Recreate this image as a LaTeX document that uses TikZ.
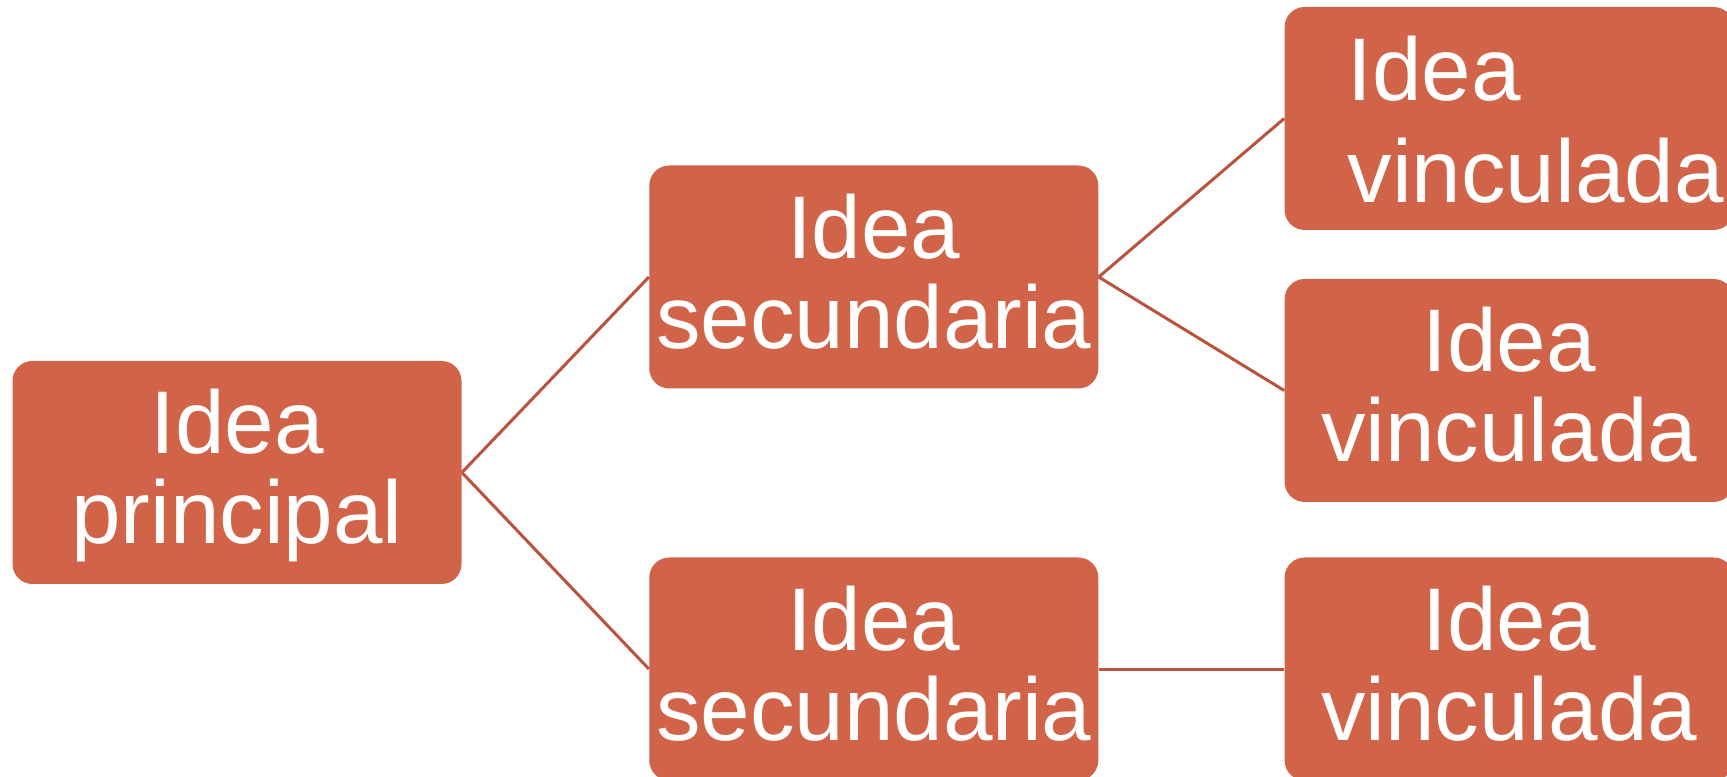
\documentclass[tikz,border=0pt]{standalone}
\usepackage{fontspec}
\setmainfont{Liberation Sans}
\usepackage{tikz}
\usetikzlibrary{positioning}
\usepackage{xcolor}
\definecolor{idea-fill}{HTML}{D16349}
\definecolor{idea-link}{HTML}{B9533C}

\begin{document}
\begin{tikzpicture}[node distance=93.5pt]
  \tikzstyle{idea}=[rectangle, rounded corners=10pt, fill=idea-fill, text=white,
    minimum width=224.5pt, minimum height=111.5pt, inner sep=0pt, align=center,
    font=\fontsize{44.5pt}{45pt}\selectfont, text height=71.5pt]
  \tikzstyle{link}=[draw=idea-link, line width=1.5pt]

  \useasboundingbox (0,0) rectangle (863.5pt,388pt);

  %% Principal
  \node[idea, text height=80.5pt] (prin) at (118.5pt,151.75pt) {Idea\\principal};

  %% Secundarias
  \node[idea] (sec1) [right=of prin, yshift=97.75pt]  {Idea\\secundaria};
  \node[idea] (sec2) [right=of prin, yshift=-98.25pt] {Idea\\secundaria};

  %% Vinculadas
  \node[idea, text width=161.5pt, inner xsep=31.5pt, align=left,
        font=\fontsize{44.5pt}{51pt}\selectfont, text height=33pt]
              (vin1) [right=92.75pt of sec1, yshift=79.25pt]  {Idea\\\mbox{vinculada}};
  \node[idea] (vin2) [right=92.75pt of sec1, yshift=-56.75pt] {Idea\\vinculada};
  \node[idea] (vin3) [right=92.75pt of sec2]                  {Idea\\vinculada};

  %% Links
  \path[link]
    (prin.east) edge (sec1.west)
    (prin.east) edge (sec2.west)
    (sec1.east) edge (vin1.west)
    (sec1.east) edge (vin2.west)
    (sec2.east) edge (vin3.west);
\end{tikzpicture}
\end{document}
